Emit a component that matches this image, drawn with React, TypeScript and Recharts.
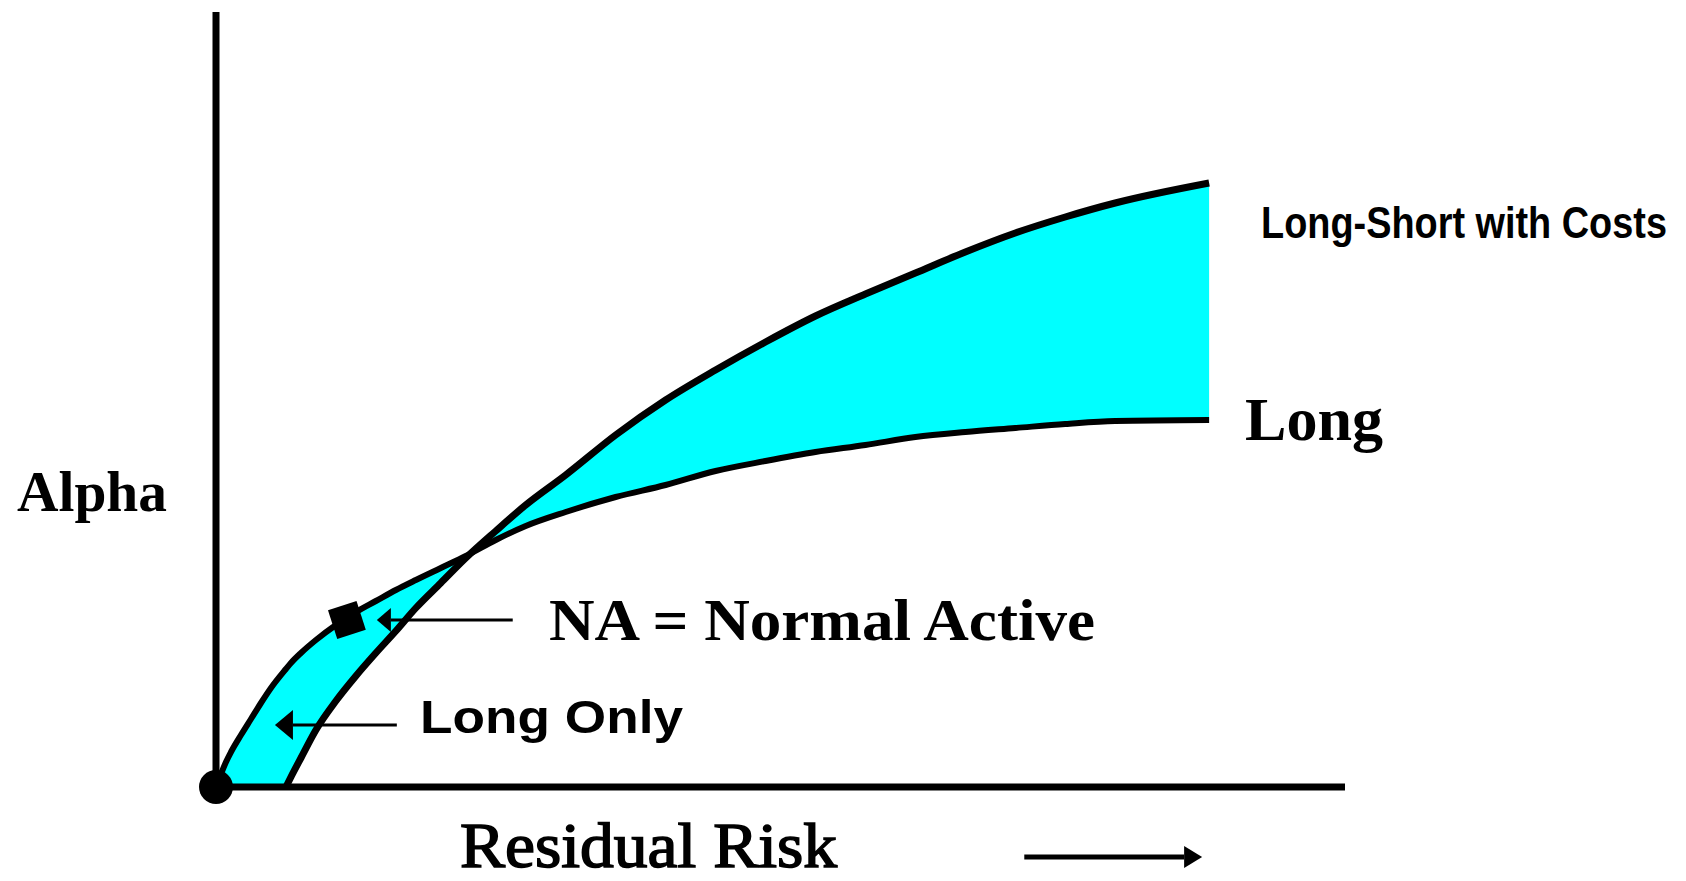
import React from 'react';
import {
  ComposedChart, Area, Line, XAxis, YAxis, ReferenceLine, ReferenceDot, Scatter,
} from 'recharts';

// residual risk (x) and alpha (y), arbitrary units
const riskGrid = [0, 0.5, 1, 1.5, 2.5, 3.5, 4.5, 5.5, 7, 7.5, 8.5, 10, 12, 14, 16, 18, 20, 22.5, 25, 28, 31, 35, 40, 45, 50, 55, 60, 65, 70, 75, 80, 85, 90, 99.4];
const longAlpha = [0, 1.3, 2.5, 3.5, 5.2, 6.8, 8.4, 9.9, 11.8, 12.4, 13.4, 14.7, 16.2, 17.5, 18.6, 19.7, 20.7, 21.9, 23.1, 24.7, 26.1, 27.5, 29.0, 30.2, 31.6, 32.6, 33.5, 34.2, 35.0, 35.5, 35.9, 36.3, 36.6, 36.7];
const longShortAlpha = [null, null, null, null, null, null, null, null, 0, 1.0, 2.9, 5.7, 8.6, 11.1, 13.4, 15.6, 17.9, 20.4, 22.9, 25.6, 28.2, 31.2, 35.2, 38.7, 41.7, 44.5, 47.1, 49.3, 51.4, 53.5, 55.4, 57.0, 58.4, 60.4];
const normalActive = [{ risk: 13.1, alpha: 16.7 }];
const origin = { risk: 0, alpha: 0 };

const W = 1686;
const H = 881;
const SERIF = '"Liberation Serif", "Times New Roman", serif';
const SANS = '"Liberation Sans", Arial, sans-serif';

const rows = riskGrid.map((risk, i) => {
  const ls = longShortAlpha[i];
  const lo = ls ?? 0;
  const hi = longAlpha[i];
  return { risk, long: longAlpha[i], longShort: ls, band: [Math.min(lo, hi), Math.max(lo, hi)] };
});

// line with a filled head at the second end point
const arrow = (head: number, half: number, width: number) => (p: any) => {
  const { x1, y1, x2, y2 } = p;
  const d = Math.sign(x2 - x1);
  return (
    <g>
      <line x1={x1} y1={y1} x2={x2 - d * head} y2={y2} stroke="#000" strokeWidth={width} />
      <polygon points={`${x2},${y2} ${x2 - d * head},${y2 - half} ${x2 - d * head},${y2 + half}`} fill="#000" />
    </g>
  );
};

// sy stretches the glyphs vertically, as in the scanned original
const labels = [
  { text: 'Long-Short with Costs', x: 1261, y: 238, size: 38, sy: 1.15, len: 406, font: SANS, weight: 700, stroke: 0 },
  { text: 'Long', x: 1245, y: 440, size: 61, sy: 1, len: 138, font: SERIF, weight: 700, stroke: 0 },
  { text: 'Alpha', x: 17, y: 511, size: 57, sy: 1, len: 150, font: SERIF, weight: 700, stroke: 0 },
  { text: 'NA = Normal Active', x: 549, y: 640, size: 59, sy: 1, len: 546, font: SERIF, weight: 700, stroke: 0 },
  { text: 'Long Only', x: 420, y: 733, size: 42, sy: 1.08, len: 263, font: SANS, weight: 700, stroke: 0 },
  { text: 'Residual Risk', x: 460, y: 867, size: 56, sy: 1.15, len: 377, font: SERIF, weight: 400, stroke: 1.4 },
];

export default function App() {
  return (
    <div style={{ position: 'absolute', left: 0, top: 0, width: W, height: H, background: '#fff' }}>
      <ComposedChart width={W} height={H} data={rows} margin={{ top: 12, right: 341, bottom: 94, left: 216 }}>
        <XAxis dataKey="risk" type="number" domain={[0, 113]} hide />
        <YAxis type="number" domain={[0, 77.5]} hide />
        <Area dataKey="band" type="monotone" fill="#00FFFF" fillOpacity={1} stroke="none" isAnimationActive={false} />
        <Line dataKey="long" type="monotone" stroke="#000" strokeWidth={6} dot={false} isAnimationActive={false} />
        <Line dataKey="longShort" type="monotone" stroke="#000" strokeWidth={7} dot={false} isAnimationActive={false} />
        <ReferenceLine x={0} stroke="#000" strokeWidth={7} ifOverflow="visible" />
        <ReferenceLine y={0} stroke="#000" strokeWidth={7} ifOverflow="visible" />
        <ReferenceLine segment={[{ x: 29.7, y: 16.7 }, { x: 16.1, y: 16.7 }]} shape={arrow(14, 12, 3)} />
        <ReferenceLine segment={[{ x: 18.1, y: 6.2 }, { x: 5.9, y: 6.2 }]} shape={arrow(18, 15, 3)} />
        <ReferenceLine segment={[{ x: 80.9, y: -7.0 }, { x: 98.7, y: -7.0 }]} ifOverflow="visible" shape={arrow(18, 11, 5)} />
        <Scatter data={normalActive} dataKey="alpha" isAnimationActive={false}
          shape={(p: any) => (
            <rect x={p.cx - 15} y={p.cy - 15} width={30} height={30} fill="#000"
              transform={`rotate(-18 ${p.cx} ${p.cy})`} />
          )} />
        <ReferenceDot x={origin.risk} y={origin.alpha} r={17} fill="#000" stroke="none" ifOverflow="visible" />
      </ComposedChart>
      <svg width={W} height={H} style={{ position: 'absolute', left: 0, top: 0, pointerEvents: 'none' }}>
        {labels.map((l) => (
          <text key={l.text} x={0} y={0} transform={`translate(${l.x} ${l.y}) scale(1 ${l.sy})`}
            fontSize={l.size} fontFamily={l.font} fontWeight={l.weight}
            textLength={l.len} lengthAdjust="spacingAndGlyphs" fill="#000"
            stroke={l.stroke ? '#000' : 'none'} strokeWidth={l.stroke}>
            {l.text}
          </text>
        ))}
      </svg>
    </div>
  );
}
